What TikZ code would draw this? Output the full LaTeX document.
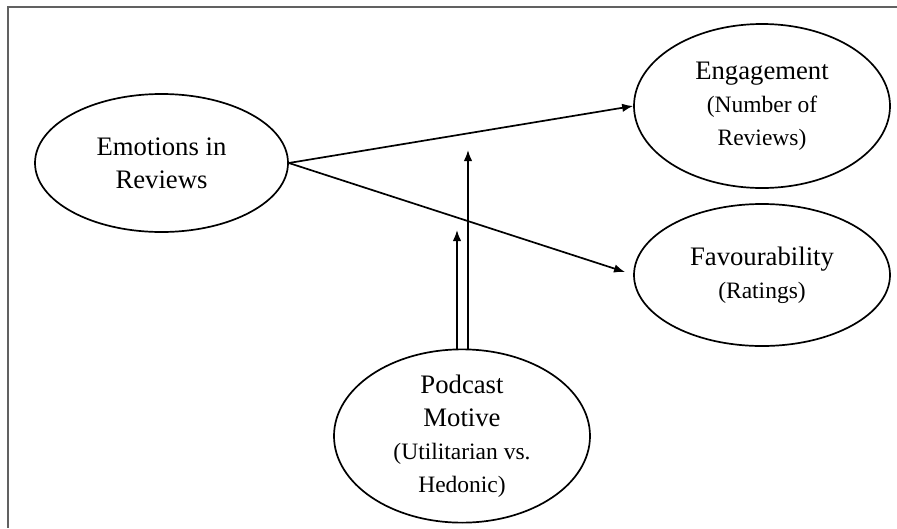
\documentclass[tikz,border=0pt]{standalone}
\usepackage{fontspec}
\setmainfont{Liberation Serif}
\usetikzlibrary{shapes.geometric,arrows.meta}
\newcommand{\bigtxt}{\fontsize{26.7}{33}\selectfont}
\newcommand{\smtxt}{\fontsize{23.5}{29}\selectfont}
\begin{document}
\begin{tikzpicture}[x=1pt,y=-1pt,
  oval/.style={draw=black, line width=1.7pt, ellipse, inner sep=0pt, align=center, font=\bigtxt},
  link/.style={line width=1.7pt, -{Latex[length=11pt,width=8.5pt]}},
  frame/.style={draw=black!62, line width=2pt}]
\useasboundingbox (0,0) rectangle (897,528);
\coordinate (fa) at (897,7);
\coordinate (fb) at (8,7);
\coordinate (fc) at (8,528);
\draw[frame] (fa) -- (fb) -- (fc);
\node[oval, minimum width=253pt, minimum height=138pt] (emo) at (161.5,163) {Emotions in\\Reviews};
\node[oval, minimum width=256pt, minimum height=164pt] (eng) at (762,106) {Engagement\\{\smtxt (Number of}\\{\smtxt Reviews)}};
\node[oval, minimum width=256pt, minimum height=142pt] (fav) at (762,275) {Favourability\\{\smtxt (Ratings)}};
\node[oval, minimum width=256pt, minimum height=142pt] (pod) at (462,436) {Podcast\\Motive\\{\smtxt (Utilitarian vs.}\\{\smtxt Hedonic)}};
\coordinate (m1) at (457,230);
\coordinate (m2) at (468,150);
\coordinate (ft) at (625,272);
\draw[link] (emo.east) -- (eng.west);
\draw[link] (emo.east) -- (ft);
\draw[link] (m1 |- pod.north) -- (m1);
\draw[link] (m2 |- pod.north) -- (m2);
\end{tikzpicture}
\end{document}
